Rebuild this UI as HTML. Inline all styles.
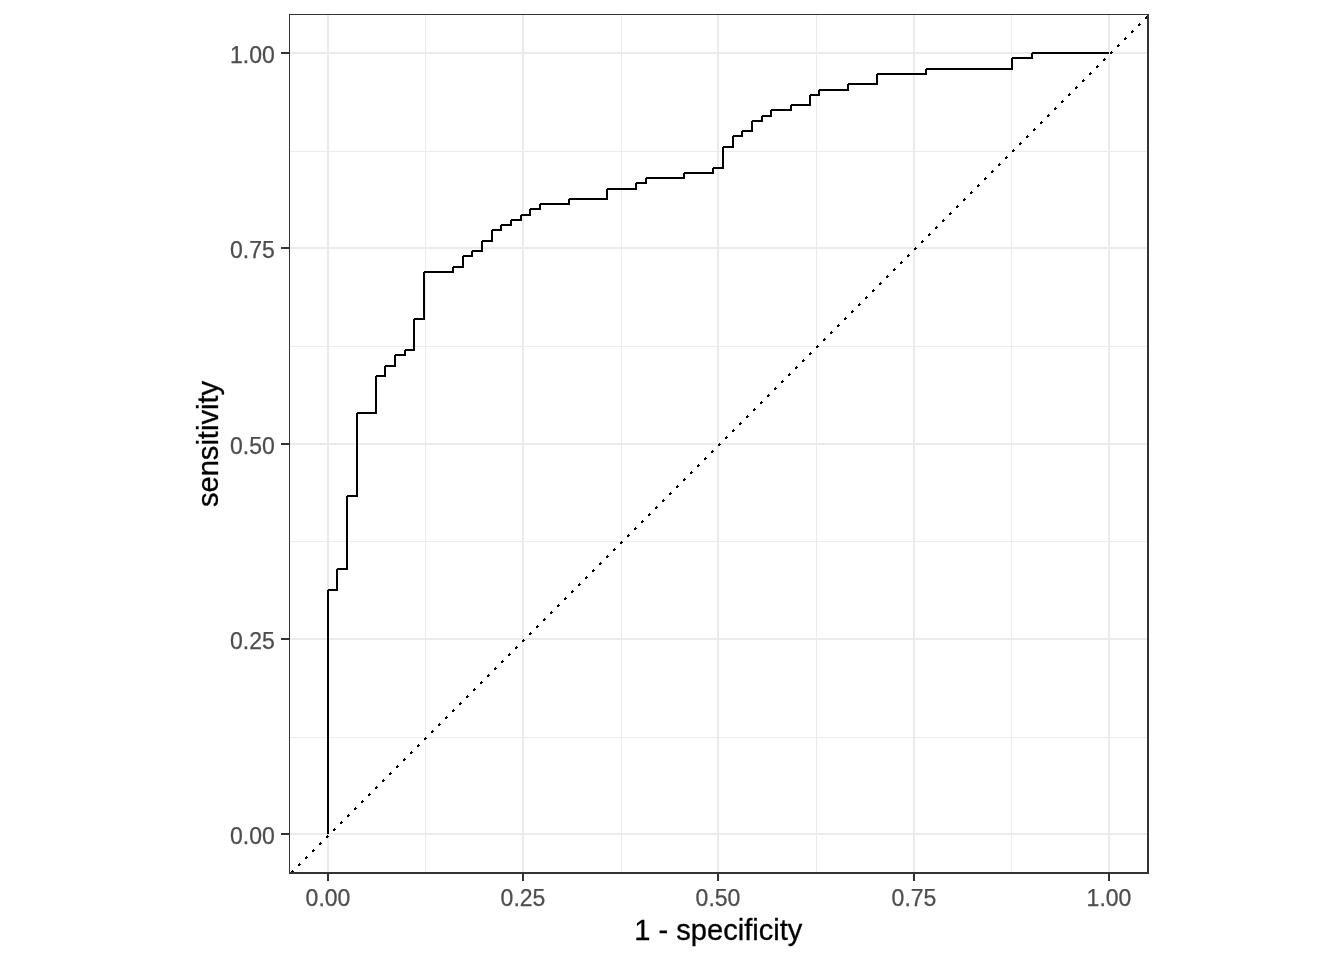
<!DOCTYPE html>
<html lang="en">
<head>
<meta charset="utf-8">
<title>ROC curve</title>
<style>
html,body{margin:0;padding:0;background:#fff;}
body{width:1344px;height:960px;overflow:hidden;font-family:"Liberation Sans",Arial,sans-serif;}
svg{display:block;}
.g rect,.t rect,.c,.d,.b{shape-rendering:crispEdges;}
.lab text{font-family:"Liberation Sans",Arial,sans-serif;font-size:23px;fill:#4d4d4d;stroke:#4d4d4d;stroke-width:0.25px;}
.ttl{font-family:"Liberation Sans",Arial,sans-serif;font-size:29.1px;fill:#000;stroke:#000;stroke-width:0.3px;}
</style>
</head>
<body>
<svg width="1344" height="960" viewBox="0 0 1344 960">
<rect width="1344" height="960" fill="#fff"/>
<defs><clipPath id="p"><rect x="289" y="14" width="860" height="860"/></clipPath></defs>
<g class="g" fill="#ebebeb"><rect x="425" y="14" width="1" height="859"/><rect x="621" y="14" width="1" height="859"/><rect x="816" y="14" width="1" height="859"/><rect x="1011" y="14" width="1" height="859"/><rect x="289" y="151" width="860" height="1"/><rect x="289" y="346" width="860" height="1"/><rect x="289" y="541" width="860" height="1"/><rect x="289" y="737" width="860" height="1"/><rect x="327" y="14" width="2" height="859"/><rect x="522" y="14" width="2" height="859"/><rect x="717" y="14" width="2" height="859"/><rect x="913" y="14" width="2" height="859"/><rect x="1108" y="14" width="2" height="859"/><rect x="289" y="52" width="860" height="2"/><rect x="289" y="247" width="860" height="2"/><rect x="289" y="443" width="860" height="2"/><rect x="289" y="638" width="860" height="2"/><rect x="289" y="833" width="860" height="2"/></g>
<path class="c" fill="#000" d="M327 590h2v244h-2zM328 589h10v2h-10zM336 569h2v22h-2zM337 568h11v2h-11zM346 496h2v74h-2zM347 495h11v2h-11zM356 413h2v84h-2zM357 412h20v2h-20zM375 376h2v38h-2zM376 375h10v2h-10zM384 366h2v11h-2zM385 365h11v2h-11zM394 355h2v12h-2zM395 354h11v2h-11zM404 350h2v6h-2zM405 349h10v2h-10zM413 319h2v32h-2zM414 318h11v2h-11zM423 272h2v48h-2zM424 271h30v2h-30zM452 267h2v6h-2zM453 266h11v2h-11zM462 256h2v12h-2zM463 255h10v2h-10zM471 251h2v6h-2zM472 250h11v2h-11zM481 241h2v11h-2zM482 240h11v2h-11zM491 230h2v12h-2zM492 229h10v2h-10zM500 225h2v6h-2zM501 224h11v2h-11zM510 220h2v6h-2zM511 219h11v2h-11zM520 215h2v6h-2zM521 214h10v2h-10zM529 209h2v7h-2zM530 208h11v2h-11zM539 204h2v6h-2zM540 203h30v2h-30zM568 199h2v6h-2zM569 198h39v2h-39zM606 189h2v11h-2zM607 188h30v2h-30zM635 183h2v7h-2zM636 182h11v2h-11zM645 178h2v6h-2zM646 177h39v2h-39zM683 173h2v6h-2zM684 172h30v2h-30zM712 168h2v6h-2zM713 167h11v2h-11zM722 147h2v22h-2zM723 146h11v2h-11zM732 136h2v12h-2zM733 135h10v2h-10zM741 131h2v6h-2zM742 130h11v2h-11zM751 121h2v11h-2zM752 120h11v2h-11zM761 116h2v6h-2zM762 115h10v2h-10zM770 110h2v7h-2zM771 109h21v2h-21zM790 105h2v6h-2zM791 104h20v2h-20zM809 95h2v11h-2zM810 94h10v2h-10zM818 90h2v6h-2zM819 89h30v2h-30zM847 84h2v7h-2zM848 83h30v2h-30zM876 74h2v11h-2zM877 73h50v2h-50zM925 69h2v6h-2zM926 68h87v2h-87zM1011 58h2v12h-2zM1012 57h21v2h-21zM1031 53h2v6h-2zM1032 52h77v2h-77z"/>
<path class="d" fill="#000" clip-path="url(#p)" d="M292 870h1v1h1v1h-1v1h-2v-2h1zm7-7h1v1h1v1h-1v1h-2v-2h1zm7-7h1v1h1v1h-1v1h-2v-2h1zm7-7h1v1h1v1h-1v1h-2v-2h1zm7-7h1v1h1v1h-1v1h-2v-2h1zm7-7h1v1h1v1h-1v1h-2v-2h1zm7-7h1v1h1v1h-1v1h-2v-2h1zm7-7h1v1h1v1h-1v1h-2v-2h1zm7-7h1v1h1v1h-1v1h-2v-2h1zm7-7h1v1h1v1h-1v1h-2v-2h1zm7-7h1v1h1v1h-1v1h-2v-2h1zm7-7h1v1h1v1h-1v1h-2v-2h1zm7-7h1v1h1v1h-1v1h-2v-2h1zm7-7h1v1h1v1h-1v1h-2v-2h1zm7-7h1v1h1v1h-1v1h-2v-2h1zm7-7h1v1h1v1h-1v1h-2v-2h1zm7-7h1v1h1v1h-1v1h-2v-2h1zm7-7h1v1h1v1h-1v1h-2v-2h1zm7-7h1v1h1v1h-1v1h-2v-2h1zm7-7h1v1h1v1h-1v1h-2v-2h1zm7-7h1v1h1v1h-1v1h-2v-2h1zm7-7h1v1h1v1h-1v1h-2v-2h1zm7-7h1v1h1v1h-1v1h-2v-2h1zm7-7h1v1h1v1h-1v1h-2v-2h1zm7-7h1v1h1v1h-1v1h-2v-2h1zm7-7h1v1h1v1h-1v1h-2v-2h1zm7-7h1v1h1v1h-1v1h-2v-2h1zm7-7h1v1h1v1h-1v1h-2v-2h1zm7-7h1v1h1v1h-1v1h-2v-2h1zm7-7h1v1h1v1h-1v1h-2v-2h1zm7-7h1v1h1v1h-1v1h-2v-2h1zm7-7h1v1h1v1h-1v1h-2v-2h1zm7-7h1v1h1v1h-1v1h-2v-2h1zm7-7h1v1h1v1h-1v1h-2v-2h1zm7-7h1v1h1v1h-1v1h-2v-2h1zm7-7h1v1h1v1h-1v1h-2v-2h1zm7-7h1v1h1v1h-1v1h-2v-2h1zm7-7h1v1h1v1h-1v1h-2v-2h1zm7-7h1v1h1v1h-1v1h-2v-2h1zm7-7h1v1h1v1h-1v1h-2v-2h1zm7-7h1v1h1v1h-1v1h-2v-2h1zm7-7h1v1h1v1h-1v1h-2v-2h1zm7-7h1v1h1v1h-1v1h-2v-2h1zm7-7h1v1h1v1h-1v1h-2v-2h1zm7-7h1v1h1v1h-1v1h-2v-2h1zm7-7h1v1h1v1h-1v1h-2v-2h1zm7-7h1v1h1v1h-1v1h-2v-2h1zm7-7h1v1h1v1h-1v1h-2v-2h1zm7-7h1v1h1v1h-1v1h-2v-2h1zm7-7h1v1h1v1h-1v1h-2v-2h1zm7-7h1v1h1v1h-1v1h-2v-2h1zm7-7h1v1h1v1h-1v1h-2v-2h1zm7-7h1v1h1v1h-1v1h-2v-2h1zm7-7h1v1h1v1h-1v1h-2v-2h1zm7-7h1v1h1v1h-1v1h-2v-2h1zm7-7h1v1h1v1h-1v1h-2v-2h1zm7-7h1v1h1v1h-1v1h-2v-2h1zm7-7h1v1h1v1h-1v1h-2v-2h1zm7-7h1v1h1v1h-1v1h-2v-2h1zm7-7h1v1h1v1h-1v1h-2v-2h1zm7-7h1v1h1v1h-1v1h-2v-2h1zm7-7h1v1h1v1h-1v1h-2v-2h1zm7-7h1v1h1v1h-1v1h-2v-2h1zm7-7h1v1h1v1h-1v1h-2v-2h1zm7-7h1v1h1v1h-1v1h-2v-2h1zm7-7h1v1h1v1h-1v1h-2v-2h1zm7-7h1v1h1v1h-1v1h-2v-2h1zm7-7h1v1h1v1h-1v1h-2v-2h1zm7-7h1v1h1v1h-1v1h-2v-2h1zm7-7h1v1h1v1h-1v1h-2v-2h1zm7-7h1v1h1v1h-1v1h-2v-2h1zm7-7h1v1h1v1h-1v1h-2v-2h1zm7-7h1v1h1v1h-1v1h-2v-2h1zm7-7h1v1h1v1h-1v1h-2v-2h1zm7-7h1v1h1v1h-1v1h-2v-2h1zm7-7h1v1h1v1h-1v1h-2v-2h1zm7-7h1v1h1v1h-1v1h-2v-2h1zm7-7h1v1h1v1h-1v1h-2v-2h1zm7-7h1v1h1v1h-1v1h-2v-2h1zm7-7h1v1h1v1h-1v1h-2v-2h1zm7-7h1v1h1v1h-1v1h-2v-2h1zm7-7h1v1h1v1h-1v1h-2v-2h1zm7-7h1v1h1v1h-1v1h-2v-2h1zm7-7h1v1h1v1h-1v1h-2v-2h1zm7-7h1v1h1v1h-1v1h-2v-2h1zm7-7h1v1h1v1h-1v1h-2v-2h1zm7-7h1v1h1v1h-1v1h-2v-2h1zm7-7h1v1h1v1h-1v1h-2v-2h1zm7-7h1v1h1v1h-1v1h-2v-2h1zm7-7h1v1h1v1h-1v1h-2v-2h1zm7-7h1v1h1v1h-1v1h-2v-2h1zm7-7h1v1h1v1h-1v1h-2v-2h1zm7-7h1v1h1v1h-1v1h-2v-2h1zm7-7h1v1h1v1h-1v1h-2v-2h1zm7-7h1v1h1v1h-1v1h-2v-2h1zm7-7h1v1h1v1h-1v1h-2v-2h1zm7-7h1v1h1v1h-1v1h-2v-2h1zm7-7h1v1h1v1h-1v1h-2v-2h1zm7-7h1v1h1v1h-1v1h-2v-2h1zm7-7h1v1h1v1h-1v1h-2v-2h1zm7-7h1v1h1v1h-1v1h-2v-2h1zm7-7h1v1h1v1h-1v1h-2v-2h1zm7-7h1v1h1v1h-1v1h-2v-2h1zm7-7h1v1h1v1h-1v1h-2v-2h1zm7-7h1v1h1v1h-1v1h-2v-2h1zm7-7h1v1h1v1h-1v1h-2v-2h1zm7-7h1v1h1v1h-1v1h-2v-2h1zm7-7h1v1h1v1h-1v1h-2v-2h1zm7-7h1v1h1v1h-1v1h-2v-2h1zm7-7h1v1h1v1h-1v1h-2v-2h1zm7-7h1v1h1v1h-1v1h-2v-2h1zm7-7h1v1h1v1h-1v1h-2v-2h1zm7-7h1v1h1v1h-1v1h-2v-2h1zm7-7h1v1h1v1h-1v1h-2v-2h1zm7-7h1v1h1v1h-1v1h-2v-2h1zm7-7h1v1h1v1h-1v1h-2v-2h1zm7-7h1v1h1v1h-1v1h-2v-2h1zm7-7h1v1h1v1h-1v1h-2v-2h1zm7-7h1v1h1v1h-1v1h-2v-2h1zm7-7h1v1h1v1h-1v1h-2v-2h1zm7-7h1v1h1v1h-1v1h-2v-2h1zm7-7h1v1h1v1h-1v1h-2v-2h1zm7-7h1v1h1v1h-1v1h-2v-2h1z"/>
<path class="b" fill="#333" d="M289 14h860v860h-860zM290 15v857h857v-857z" fill-rule="evenodd"/>
<g class="t" fill="#333"><rect x="327" y="874" width="2" height="7"/><rect x="522" y="874" width="2" height="7"/><rect x="717" y="874" width="2" height="7"/><rect x="913" y="874" width="2" height="7"/><rect x="1108" y="874" width="2" height="7"/><rect x="281" y="52" width="8" height="2"/><rect x="281" y="247" width="8" height="2"/><rect x="281" y="443" width="8" height="2"/><rect x="281" y="638" width="8" height="2"/><rect x="281" y="833" width="8" height="2"/></g>
<g class="lab"><text x="328" y="906" text-anchor="middle">0.00</text><text x="523" y="906" text-anchor="middle">0.25</text><text x="718" y="906" text-anchor="middle">0.50</text><text x="914" y="906" text-anchor="middle">0.75</text><text x="1109" y="906" text-anchor="middle">1.00</text><text x="274.8" y="63" text-anchor="end">1.00</text><text x="274.8" y="258" text-anchor="end">0.75</text><text x="274.8" y="454" text-anchor="end">0.50</text><text x="274.8" y="649" text-anchor="end">0.25</text><text x="274.8" y="844" text-anchor="end">0.00</text></g>
<text class="ttl" x="718.3" y="940" text-anchor="middle">1 - specificity</text>
<text class="ttl" transform="translate(218.3 444) rotate(-90)" text-anchor="middle">sensitivity</text>
</svg>
</body>
</html>
